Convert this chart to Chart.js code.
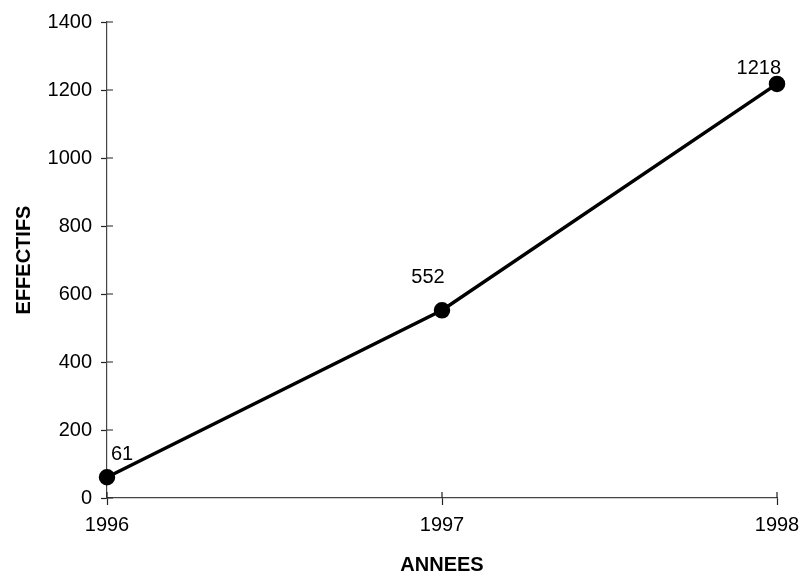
<!DOCTYPE html>
<html>
<head>
<meta charset="utf-8">
<script src="https://cdn.jsdelivr.net/npm/chart.js@4/dist/chart.umd.min.js"></script>
<style>
  body { margin: 0; background: #fff; }
  #wrap { width: 799px; height: 577px; }
</style>
</head>
<body>
<div id="wrap"><canvas id="myChart" width="799" height="577"></canvas></div>
<script>
const years = [1996, 1997, 1998];
const effectifs = [61, 552, 1218];
const yTicks = [0, 200, 400, 600, 800, 1000, 1200, 1400];

// value labels: alignment and nudge from the point (dx, dy)
const labelAlign = ['left', 'center', 'right'];
const labelNudge = [[4, -17], [-14, -27], [4, -10]];

const pointLabels = {
  id: 'pointLabels',
  afterDatasetsDraw(chart) {
    const ctx = chart.ctx;
    const meta = chart.getDatasetMeta(0);
    ctx.save();
    ctx.font = '20px "Liberation Sans", Arial, sans-serif';
    ctx.fillStyle = '#000';
    ctx.textBaseline = 'alphabetic';
    meta.data.forEach((pt, i) => {
      ctx.textAlign = labelAlign[i];
      ctx.fillText(String(effectifs[i]), pt.x + labelNudge[i][0], pt.y + labelNudge[i][1]);
    });
    ctx.restore();
  }
};

// excel style ticks that cross the axis line
const crossTicks = {
  id: 'crossTicks',
  afterDraw(chart) {
    const ctx = chart.ctx;
    const xs = chart.scales.x, ys = chart.scales.y;
    ctx.save();
    ctx.strokeStyle = '#222';
    ctx.lineWidth = 1.2;
    ctx.beginPath();
    yTicks.forEach(v => {
      const py = ys.getPixelForValue(v);
      ctx.moveTo(xs.left, py);
      ctx.lineTo(xs.left + 6, py);
    });
    years.forEach(v => {
      const px = xs.getPixelForValue(v);
      ctx.moveTo(px, ys.bottom);
      ctx.lineTo(px, ys.bottom - 6);
    });
    ctx.stroke();
    ctx.restore();
  }
};

const font = { family: '"Liberation Sans", Arial, sans-serif', size: 20 };
const titleFont = { family: '"Liberation Sans", Arial, sans-serif', size: 20, weight: 'bold' };

new Chart(document.getElementById('myChart'), {
  type: 'line',
  data: {
    datasets: [{
      data: years.map((y, i) => ({ x: y, y: effectifs[i] })),
      borderColor: '#000',
      backgroundColor: '#000',
      borderWidth: 3.5,
      pointRadius: 6.5,
      pointHoverRadius: 6.5,
      tension: 0,
      clip: false
    }]
  },
  options: {
    responsive: false,
    animation: false,
    layout: { padding: { top: 22, right: 22, left: 0, bottom: 0 } },
    plugins: { legend: { display: false }, tooltip: { enabled: false } },
    scales: {
      x: {
        type: 'linear',
        min: 1996,
        max: 1998,
        afterBuildTicks(scale) { scale.ticks = years.map(v => ({ value: v })); },
        afterFit(scale) {
          scale.height = 79;
          scale.paddingRight = 0;
          scale.paddingLeft = 0;
        },
        grid: { drawOnChartArea: false, color: '#222', tickLength: 7, tickWidth: 1.2 },
        border: { color: '#444', width: 1.2 },
        ticks: { color: '#000', font: font, padding: 8, callback: v => String(v) },
        title: {
          display: true, text: 'ANNEES', color: '#000', font: titleFont,
          padding: { top: 12, bottom: 0 }
        }
      },
      y: {
        min: 0,
        max: 1400,
        afterBuildTicks(scale) { scale.ticks = yTicks.map(v => ({ value: v })); },
        afterFit(scale) { scale.width = 107; },
        grid: { drawOnChartArea: false, color: '#222', tickLength: 6, tickWidth: 1.2 },
        border: { color: '#444', width: 1.2 },
        ticks: { color: '#000', font: font, padding: 9, callback: v => String(v) },
        title: {
          display: true, text: 'EFFECTIFS', color: '#000', font: titleFont,
          padding: { top: 12, bottom: 0 }
        }
      }
    }
  },
  plugins: [pointLabels, crossTicks]
});
</script>
</body>
</html>
